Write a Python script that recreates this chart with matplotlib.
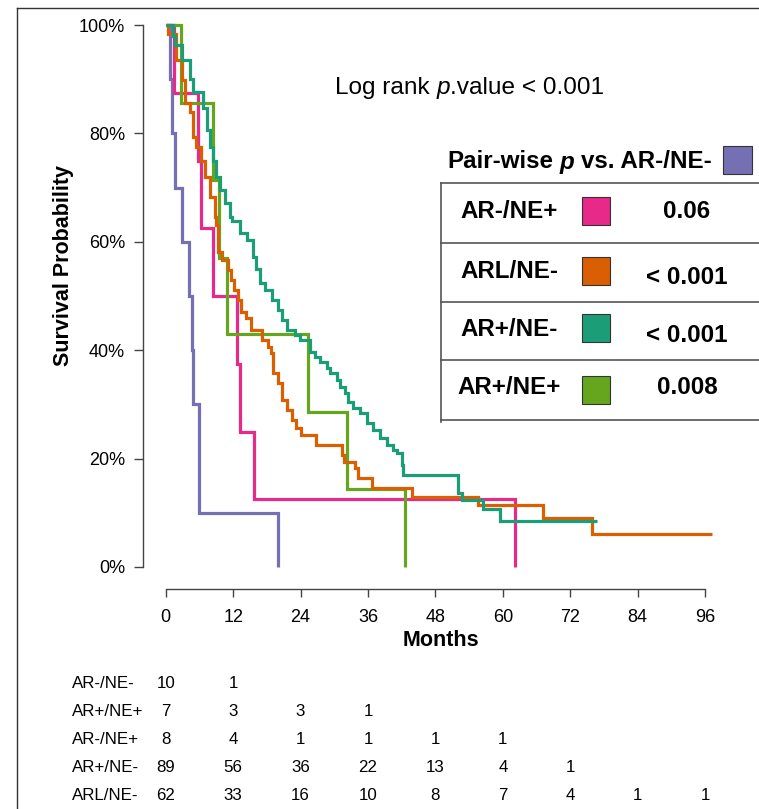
import matplotlib
matplotlib.use("Agg")
import matplotlib.pyplot as plt
import matplotlib.transforms as mtransforms
from matplotlib import font_manager
from matplotlib.lines import Line2D
from matplotlib.patches import Rectangle

plt.rcParams['font.family'] = ['Liberation Sans', 'DejaVu Sans']

W, H = 759, 809

###############################################################################
# Data
# (Kaplan-Meier steps: months, survival after the step)

purple_t = [0, 0.8, 1.1, 1.7, 2.9, 4.2, 4.6, 4.8, 6.0, 19.9]
purple_s = [1, 0.9, 0.8, 0.7, 0.6, 0.5, 0.4, 0.3, 0.1, 0.0]

pink_t = [0, 1.4, 5.8, 6.2, 8.5, 12.6, 13.2, 15.7, 62.1]
pink_s = [1, 0.875, 0.75, 0.625, 0.5, 0.375, 0.25, 0.125, 0.0]

green_t = [0, 2.7, 8.5, 9.5, 10.85, 25.4, 32.2, 42.6]
green_s = [1, 0.857, 0.714, 0.571, 0.429, 0.286, 0.143, 0.0]

orange_t = [0, 0.45, 1.75, 2.9, 3.5, 4.3, 4.8, 5.4, 6.2, 7.0, 7.9, 8.7, 8.95,
            9.3, 10.0, 11.1, 11.6, 12.2, 12.9, 13.4, 14.3, 15.2, 17.1, 18.2,
            18.75, 19.1, 20.0, 20.7, 21.6, 22.5, 23.2, 24.1, 26.8, 31.4, 31.8,
            33.7, 34.2, 36.7, 43.8, 55.6, 67.2, 75.8, 97.3]
orange_s = [1, 0.984, 0.935, 0.898, 0.856, 0.839, 0.793, 0.775, 0.75, 0.72,
            0.683, 0.646, 0.631, 0.581, 0.566, 0.548, 0.53, 0.511, 0.493, 0.47,
            0.459, 0.437, 0.419, 0.406, 0.395, 0.358, 0.34, 0.308, 0.29, 0.271,
            0.256, 0.244, 0.225, 0.207, 0.194, 0.183, 0.164, 0.146, 0.129,
            0.114, 0.091, 0.06, 0.06]

teal_t = [0, 1.25, 1.65, 2.85, 4.3, 4.85, 6.6, 7.3, 7.9, 8.5, 8.95, 9.7, 10.55,
          11.45, 11.8, 13.2, 14.5, 15.5, 16.0, 16.8, 17.7, 18.9, 20.0, 20.7,
          21.6, 23.0, 23.9, 25.7, 26.6, 27.5, 28.7, 29.3, 30.5, 31.0, 31.9,
          32.5, 33.3, 34.6, 35.8, 36.9, 38.2, 39.4, 40.5, 41.2, 42.1, 42.3,
          52.0, 52.8, 56.5, 59.5, 76.8]
teal_s = [1, 0.98, 0.963, 0.935, 0.90, 0.876, 0.847, 0.806, 0.775, 0.75, 0.72,
          0.696, 0.672, 0.646, 0.638, 0.616, 0.603, 0.572, 0.55, 0.524, 0.511,
          0.493, 0.474, 0.456, 0.437, 0.428, 0.419, 0.397, 0.387, 0.378, 0.367,
          0.358, 0.345, 0.332, 0.321, 0.304, 0.293, 0.284, 0.266, 0.253, 0.238,
          0.225, 0.216, 0.21, 0.188, 0.17, 0.137, 0.124, 0.107, 0.085, 0.085]

curves = [
    ("AR-/NE-", purple_t, purple_s, "#7570B3"),
    ("AR-/NE+", pink_t, pink_s, "#E7298A"),
    ("AR+/NE+", green_t, green_s, "#66A61E"),
    ("ARL/NE-", orange_t, orange_s, "#D95F02"),
    ("AR+/NE-", teal_t, teal_s, "#1B9E77"),
]
col = {name: c for name, _, _, c in curves}

x_ticks = [0, 12, 24, 36, 48, 60, 72, 84, 96]
y_ticks = [0, 0.2, 0.4, 0.6, 0.8, 1.0]
y_labels = ["0%", "20%", "40%", "60%", "80%", "100%"]

# pair-wise p values vs. AR-/NE-
pw_groups = ["AR-/NE+", "ARL/NE-", "AR+/NE-", "AR+/NE+"]
pw_values = ["0.06", "< 0.001", "< 0.001", "0.008"]

# numbers at risk, one row per group, at 0, 12, 24 ... months
risk_groups = ["AR-/NE-", "AR+/NE+", "AR-/NE+", "AR+/NE-", "ARL/NE-"]
risk_counts = [
    [10, 1],
    [7, 3, 3, 1],
    [8, 4, 1, 1, 1, 1],
    [89, 56, 36, 22, 13, 4, 1],
    [62, 33, 16, 10, 8, 7, 4, 1, 1],
]

###############################################################################
# Figure and axes


def fx(x):
    return x / W


def fy(y):
    return 1 - y / H


fig = plt.figure(figsize=(W / 100, H / 100), dpi=100)
ax = fig.add_axes([fx(143), fy(589), (740 - 143) / W, (589 - 15) / H])
ax.set_xlim(-4.04, 102.2)
ax.set_ylim(-0.0406, 1.0185)

for name, t, s, c in curves:
    ax.step(t, s, where='post', color=c, lw=2.3, solid_capstyle='butt',
            solid_joinstyle='miter')

for side in ['top', 'right']:
    ax.spines[side].set_visible(False)
ax.spines['bottom'].set_bounds(0, 96)
ax.spines['left'].set_bounds(0, 1)
for side in ['bottom', 'left']:
    ax.spines[side].set_color('#444444')
    ax.spines[side].set_linewidth(1.0)

ax.set_xticks(x_ticks)
ax.set_xticklabels([str(v) for v in x_ticks])
ax.set_yticks(y_ticks)
ax.set_yticklabels(y_labels)
ax.tick_params(axis='x', length=6, width=1.0, color='#444444', pad=8.5, labelsize=13)
ax.tick_params(axis='y', length=6.5, width=1.0, color='#444444', pad=6.5, labelsize=13)

fig.text(fx(441), fy(641), "Months", fontsize=15.5, fontweight='bold',
         ha='center', va='center')
fig.text(fx(63), fy(266), "Survival Probability", fontsize=15.5,
         fontweight='bold', rotation=90, ha='center', va='center')

# outer frame (left and top only)
fig.add_artist(Line2D([fx(17), fx(17)], [fy(8), fy(809)], color='#333333', lw=1.0))
fig.add_artist(Line2D([fx(17), fx(759)], [fy(8), fy(8)], color='#333333', lw=1.0))


def rich(x, y, pieces, size, weight='normal', ha='center'):
    # pieces: (text, style, space before) placed on one baseline
    r = fig.canvas.get_renderer()
    arts = [fig.text(0, fy(y), txt, fontsize=size, fontstyle=st,
                     fontweight=weight, ha='left', va='baseline')
            for txt, st, _ in pieces]
    widths = [a.get_window_extent(r).width for a in arts]
    space = 0.278 * size * 100 / 72
    gaps = [sp * space for _, _, sp in pieces]
    total = sum(widths) + sum(gaps)
    x0 = x - total / 2 if ha == 'center' else x
    for a, w, g in zip(arts, widths, gaps):
        x0 += g
        a.set_x(fx(x0))
        x0 += w


rich(470, 94, [("Log rank", 'normal', 0), ("p", 'italic', 1),
               (".value < 0.001", 'normal', 0)], 17.6)
rich(447, 168.5, [("Pair-wise", 'normal', 0), ("p", 'italic', 1),
                  ("vs. AR-/NE-", 'normal', 1)], 17.4, weight='bold', ha='left')

fig.add_artist(Rectangle((fx(723), fy(174)), 29 / W, 28 / H, transform=fig.transFigure,
                         facecolor=col["AR-/NE-"], edgecolor='#333333', lw=0.8))

# table of pair-wise p values
row_lines = [183, 243, 302, 360, 420]
for yl in row_lines:
    fig.add_artist(Line2D([fx(441), fx(759)], [fy(yl), fy(yl)], color='#555555', lw=1.2))
fig.add_artist(Line2D([fx(441), fx(441)], [fy(183), fy(422)], color='#555555', lw=1.2))

label_y = [212, 271, 330, 388]
value_y = [212, 277, 336, 388]
box_y = [197, 257, 314, 376]
for g, v, ly, vy, by in zip(pw_groups, pw_values, label_y, value_y, box_y):
    fig.text(fx(509), fy(ly), g, fontsize=17.4, fontweight='bold', ha='center', va='center')
    fig.text(fx(687), fy(vy), v, fontsize=17.4, fontweight='bold', ha='center', va='center')
    fig.add_artist(Rectangle((fx(582), fy(by + 28)), 28 / W, 28 / H,
                             transform=fig.transFigure, facecolor=col[g],
                             edgecolor='#333333', lw=0.8))

# numbers at risk
names = {f.name for f in font_manager.fontManager.ttflist}
narrow = "Liberation Sans Narrow" if "Liberation Sans Narrow" in names else "Liberation Sans"
rsize = 13.5 if narrow == "Liberation Sans Narrow" else 12.2
trans = mtransforms.blended_transform_factory(ax.transData, fig.transFigure)
risk_y = [684, 712, 740, 767, 795]
for g, counts, ry in zip(risk_groups, risk_counts, risk_y):
    fig.text(fx(72), fy(ry), g, fontsize=rsize, family=narrow, ha='left', va='center')
    for t, n in zip(x_ticks, counts):
        ax.text(t, fy(ry), str(n), transform=trans, fontsize=rsize, family=narrow,
                ha='center', va='center', clip_on=False)

fig.savefig("out.png", dpi=100)
